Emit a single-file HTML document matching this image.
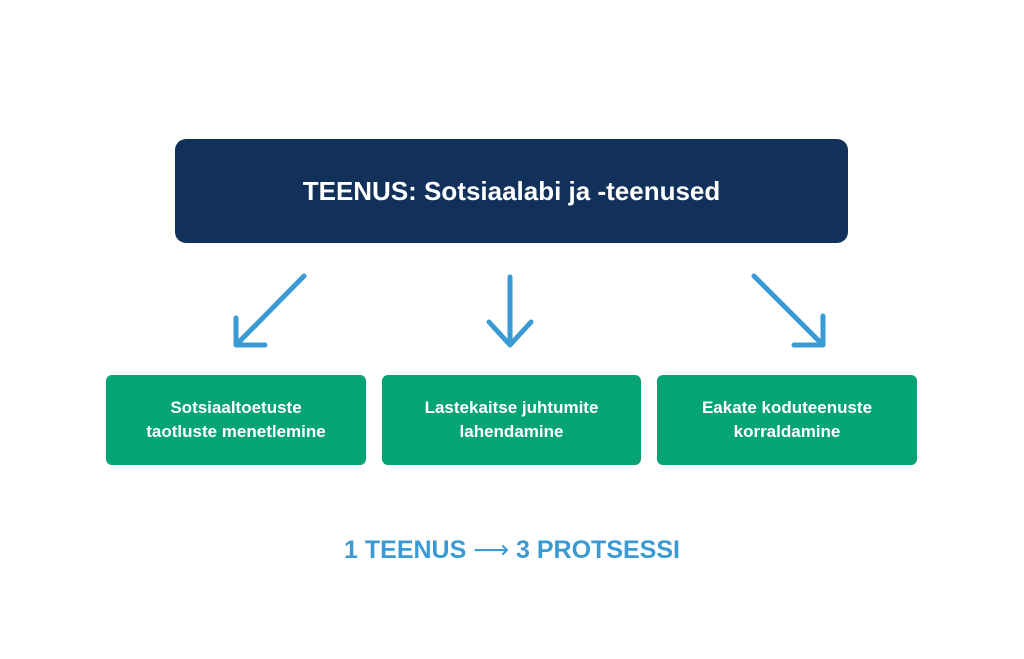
<!DOCTYPE html>
<html><head><meta charset="utf-8"><style>
body{margin:0;width:1024px;height:659px;background:#fff;position:relative;font-family:"Liberation Sans",sans-serif;overflow:hidden}
.top{position:absolute;left:175px;top:139px;width:673px;height:104px;background:#11305a;border-radius:11px;color:#fff;font-size:26px;font-weight:bold;display:flex;align-items:center;justify-content:center}
.g{position:absolute;top:375px;height:90px;width:260px;background:#05a475;border-radius:6px;color:#fff;font-size:17px;font-weight:bold;line-height:24px;display:flex;align-items:center;justify-content:center;text-align:center}
.b{position:absolute;left:0;width:1024px;top:535px;text-align:center;color:#3a9ad3;font-size:25px;font-weight:bold}
</style></head><body>
<div class="top">TEENUS: Sotsiaalabi ja -teenused</div>
<svg width="1024" height="659" style="position:absolute;left:0;top:0" fill="none" stroke="#3a9ad3" stroke-width="5" stroke-linecap="round" stroke-linejoin="round">
<line x1="304" y1="276" x2="238" y2="343"/><polyline points="236,318 236,345 265,345"/>
<line x1="510" y1="277" x2="510" y2="343"/><polyline points="489,322 510,345 531,322"/>
<line x1="754" y1="276" x2="821" y2="343"/><polyline points="823,316 823,345 794,345"/>
</svg>
<div class="g" style="left:106px">Sotsiaaltoetuste<br>taotluste menetlemine</div>
<div class="g" style="left:382px;width:259px">Lastekaitse juhtumite<br>lahendamine</div>
<div class="g" style="left:657px">Eakate koduteenuste<br>korraldamine</div>
<div class="b">1 TEENUS <span style="font-family:'DejaVu Sans',sans-serif;font-weight:normal">⟶</span> 3 PROTSESSI</div>
</body></html>
